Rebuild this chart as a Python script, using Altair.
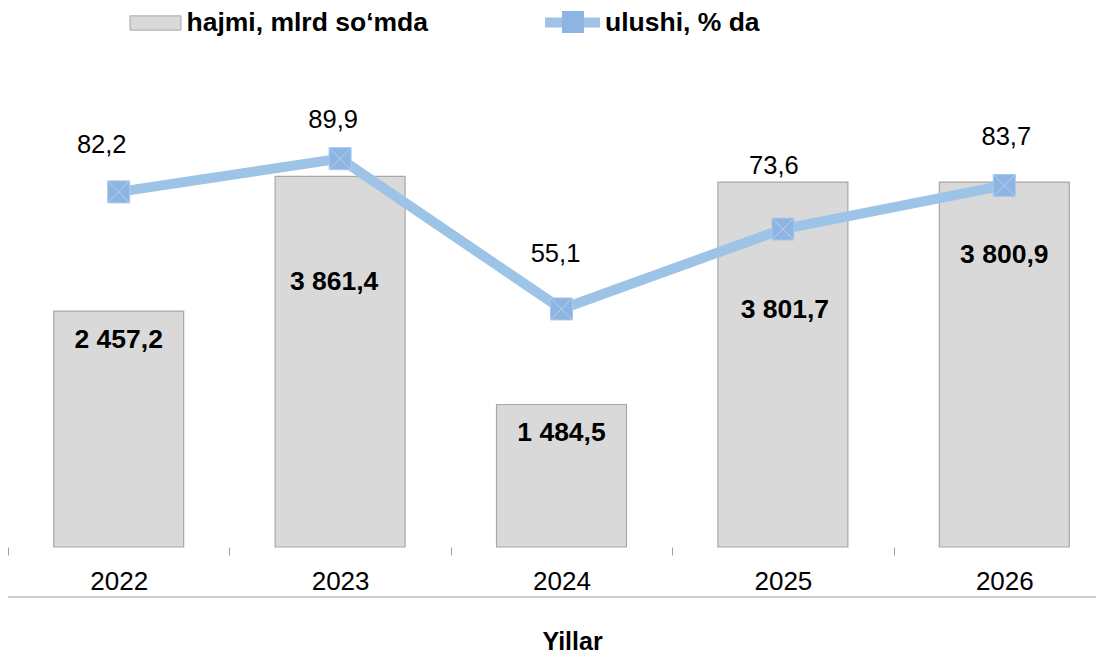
import altair as alt
import pandas as pd

# ---- data ----
years = ["2022", "2023", "2024", "2025", "2026"]
hajmi = [2457.2, 3861.4, 1484.5, 3801.7, 3800.9]      # bars, mlrd so'm
ulushi = [82.2, 89.9, 55.1, 73.6, 83.7]               # line, %

series_bar = "hajmi, mlrd so\u2018mda"
series_line = "ulushi, % da"
x_title = "Yillar"

# ---- label placement offsets (pixels, layout only) ----
bar_label_dx = [0, -6, 0, 2, 0]
bar_label_dy = [28.5, 106, 28.5, 128, 73]
share_label_dx = [-17, -7, -6, -9, 2]
share_label_dy = [-47, -39, -54.5, -63.5, -48]


def fmt(v):
    return f"{v:,.1f}".replace(",", " ").replace(".", ",")


df = pd.DataFrame({
    "Yil": years,
    "hajmi": hajmi,
    "ulushi": ulushi,
    "hajmi_txt": [fmt(v) for v in hajmi],
    "ulushi_txt": [fmt(v) for v in ulushi],
    "bdx": bar_label_dx,
    "bdy": bar_label_dy,
    "sdx": share_label_dx,
    "sdy": share_label_dy,
    "s1": series_bar,
    "s2": series_line,
    "s3": " ",
})

FONT = "Liberation Sans"
W, H = 1088, 432
BAND_RANGE = 1107  # category bands continue past the right edge, as in the original

x = alt.X(
    "Yil:N",
    sort=years,
    scale=alt.Scale(range=[0, BAND_RANGE], paddingInner=0, paddingOuter=0),
    axis=alt.Axis(
        title=x_title, titleFont=FONT, titleFontSize=25, titleFontWeight="bold",
        titleColor="black", titleX=564, titleY=102, titleBaseline="alphabetic",
        titleAlign="center", titleAnchor="start",
        labelFont=FONT, labelFontSize=26, labelColor="black", labelAngle=0,
        labelPadding=13, tickSize=8, tickColor="#a0a0a0", tickWidth=1,
        tickBand="extent", domain=False, grid=False,
    ),
)

y_bar = alt.Y("hajmi:Q", scale=alt.Scale(domain=[0, 4500], nice=False, zero=True), axis=None)
y_line = alt.Y("ulushi:Q", scale=alt.Scale(domain=[0, 100], nice=False, zero=True), axis=None)

base = alt.Chart(df)

bars = base.mark_bar(
    width=alt.RelativeBandSize(0.587), stroke="#a8a8a8", strokeWidth=1.2
).encode(
    x=x, y=y_bar,
    fill=alt.Fill(
        "s1:N",
        scale=alt.Scale(domain=[series_bar], range=["#d9d9d9"]),
        legend=alt.Legend(
            title=None, orient="none", legendX=121.5, legendY=-118, padding=0,
            symbolType="M-1,-0.28L1,-0.28L1,0.28L-1,0.28Z", symbolSize=2601,
            symbolStrokeColor="#a8a8a8", symbolStrokeWidth=1,
            labelFont=FONT, labelFontSize=26.5, labelFontWeight="bold",
            labelColor="black", labelOffset=5, labelLimit=0,
        ),
    ),
)

bar_text = base.mark_text(
    font=FONT, fontSize=26.5, fontWeight="bold", color="black",
    align="center", baseline="middle",
    dx={"expr": "datum.bdx"}, dy={"expr": "datum.bdy"},
).encode(x=x, y=y_bar, text="hajmi_txt:N")

line = base.mark_line(strokeWidth=10, strokeJoin="round", strokeCap="round").encode(
    x=x, y=y_line,
    stroke=alt.Stroke(
        "s2:N",
        scale=alt.Scale(domain=[series_line], range=["#9dc3e6"]),
        legend=alt.Legend(
            title=None, orient="none", legendX=532, legendY=-125, padding=0,
            symbolType="M-1,0L1,0", symbolSize=3025, symbolStrokeWidth=10,
            labelFont=FONT, labelFontSize=26.5, labelFontWeight="bold",
            labelColor="black", labelOffset=0, labelLimit=0,
        ),
    ),
)

points = base.mark_point(
    filled=True, fill="#8db4e2", stroke="#a9c9ec", strokeWidth=1, size=484, opacity=1
).encode(
    x=x, y=y_line,
    shape=alt.Shape(
        "s3:N",
        scale=alt.Scale(domain=[" "], range=["square"]),
        legend=alt.Legend(
            title=None, orient="none", legendX=553.5, legendY=-104.5, padding=0,
            symbolSize=484, symbolFillColor="#8db4e2", symbolStrokeColor="#a9c9ec",
            symbolStrokeWidth=1, labelFontSize=1, labelOffset=0,
        ),
    ),
)

crosses = base.mark_point(
    shape="M-1,-1L1,1M1,-1L-1,1", filled=False, stroke="#b5d0ee",
    strokeWidth=1, size=484, opacity=1,
).encode(x=x, y=y_line)

share_text = base.mark_text(
    font=FONT, fontSize=25.5, color="black", align="center", baseline="middle",
    dx={"expr": "datum.sdx"}, dy={"expr": "datum.sdy"},
).encode(x=x, y=y_line, text="ulushi_txt:N")

rule = alt.Chart(pd.DataFrame({"r": [0]})).mark_rule(
    stroke="#a0a0a0", strokeWidth=1.2
).encode(x=alt.value(0), x2=alt.value(W), y=alt.value(482))

chart = (
    alt.layer(bars, bar_text, line, points, crosses, share_text, rule)
    .resolve_scale(y="independent")
    .properties(
        width=W, height=H,
        padding={"left": 0, "top": 107, "right": 0, "bottom": 108},
        autosize=alt.AutoSizeParams(type="none"),
        background="white",
    )
    .configure_view(stroke=None)
)

chart.save("out.html", embed_options={"renderer": "svg", "actions": False})
